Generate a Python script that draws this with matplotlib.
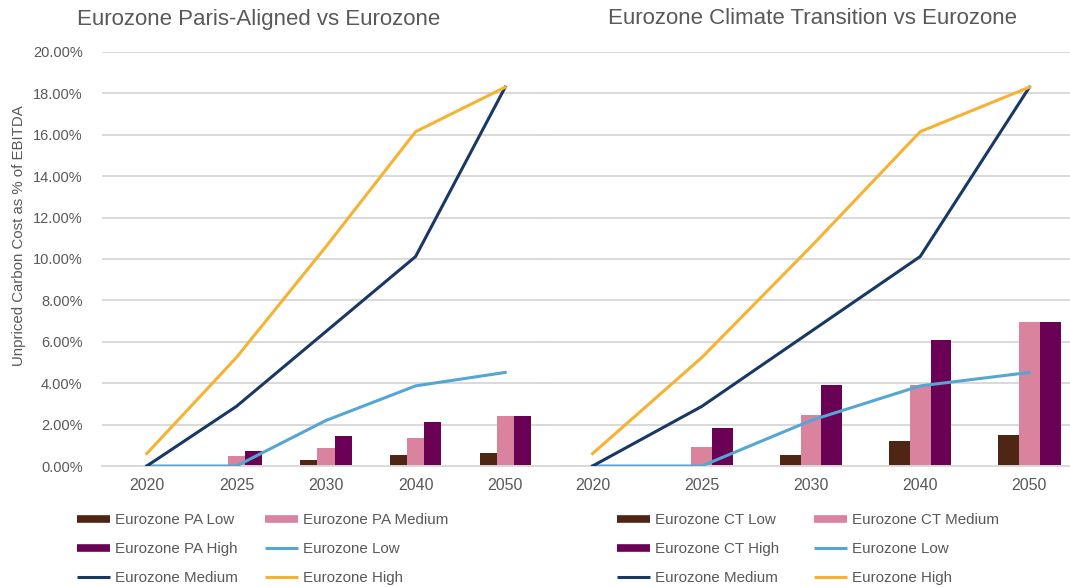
import matplotlib
matplotlib.use("Agg")
import matplotlib.pyplot as plt
from matplotlib.lines import Line2D
from matplotlib.ticker import FuncFormatter, MultipleLocator

plt.rcParams['font.family'] = ['Liberation Sans', 'DejaVu Sans']

# ---- data (values in % of EBITDA) ----
years = ["2020", "2025", "2030", "2040", "2050"]

# Eurozone benchmark lines (shared by both panels)
ez_low = [0.0, 0.0, 2.2, 3.87, 4.52]
ez_medium = [0.0, 2.88, 6.5, 10.12, 18.3]
ez_high = [0.6, 5.24, 10.6, 16.15, 18.3]

# Paris-Aligned index bars
pa_low = [0.06, 0.0, 0.30, 0.51, 0.64]
pa_medium = [0.02, 0.46, 0.88, 1.36, 2.41]
pa_high = [0.0, 0.72, 1.44, 2.14, 2.41]

# Climate Transition index bars
ct_low = [0.06, 0.0, 0.55, 1.22, 1.50]
ct_medium = [0.02, 0.94, 2.47, 3.93, 6.96]
ct_high = [0.0, 1.82, 3.93, 6.10, 6.96]

titles = ["Eurozone Paris-Aligned vs Eurozone",
          "Eurozone Climate Transition vs Eurozone"]
y_label = "Unpriced Carbon Cost as % of EBITDA"

# ---- styling ----
C_BROWN = "#4e2613"
C_PINK = "#d9839f"
C_PURPLE = "#6a0155"
C_LBLUE = "#55a6d3"
C_NAVY = "#1a3864"
C_YELLOW = "#f6b233"
C_TEXT = "#595959"
C_GRID = "#d9d9d9"

W, H = 1070, 587
fig = plt.figure(figsize=(W / 100, H / 100), dpi=100)


def px_axes(x0, x1, y_top, y_bot):
    return fig.add_axes([x0 / W, 1 - y_bot / H, (x1 - x0) / W, (y_bot - y_top) / H])


ax_l = px_axes(102, 550, 52, 466)
ax_r = px_axes(538, 1084, 52, 466)

panels = [
    (ax_l, (pa_low, pa_medium, pa_high),
     ["Eurozone PA Low", "Eurozone PA Medium", "Eurozone PA High"]),
    (ax_r, (ct_low, ct_medium, ct_high),
     ["Eurozone CT Low", "Eurozone CT Medium", "Eurozone CT High"]),
]

bw = 0.19
x = list(range(len(years)))
for ax, bars, names in panels:
    ax.set_facecolor("none")
    for k, (vals, col) in enumerate(zip(bars, (C_BROWN, C_PINK, C_PURPLE))):
        ax.bar([i + (k - 1) * bw for i in x], vals, width=bw, color=col,
               zorder=2, label=names[k])
    ax.plot(x, ez_low, color=C_LBLUE, lw=2.2, zorder=3, label="Eurozone Low")
    ax.plot(x, ez_medium, color=C_NAVY, lw=2.2, zorder=3, label="Eurozone Medium")
    ax.plot(x, ez_high, color=C_YELLOW, lw=2.2, zorder=3, label="Eurozone High")

    ax.set_xlim(-0.5, len(years) - 0.5)
    ax.set_ylim(0, 20)
    ax.yaxis.set_major_locator(MultipleLocator(2))
    ax.yaxis.set_major_formatter(FuncFormatter(lambda v, p: f"{v:.2f}%"))
    ax.grid(axis="y", color=C_GRID, lw=1.4, zorder=0)
    ax.set_axisbelow(True)
    ax.set_xticks(x)
    ax.set_xticklabels(years)
    for s in ("top", "right", "left"):
        ax.spines[s].set_visible(False)
    ax.spines["bottom"].set_color(C_GRID)
    ax.spines["bottom"].set_linewidth(1.4)
    ax.tick_params(axis="both", length=0, colors=C_TEXT)
    ax.tick_params(axis="x", pad=9, labelsize=11.5)
    ax.tick_params(axis="y", pad=14, labelsize=10.5)

ax_r.tick_params(axis="y", labelleft=False)

# titles and shared y label
fig.text(259 / W, 1 - 19 / H, titles[0], ha="center", va="center",
         fontsize=16, color=C_TEXT)
fig.text(812 / W, 1 - 19 / H, titles[1], ha="center", va="center",
         fontsize=16, color=C_TEXT)
fig.text(19 / W, 1 - 236 / H, y_label, rotation=90, ha="center", va="center",
         fontsize=10.8, color=C_TEXT)


# legends: one per column, placed under each panel
def bar_handle(c):
    return Line2D([], [], color=c, lw=5.5, solid_capstyle="butt")


def line_handle(c):
    return Line2D([], [], color=c, lw=2.2, solid_capstyle="butt")


def column_legend(handles, labels, x_px, y_px):
    leg = fig.legend(handles, labels, loc="upper left",
                     bbox_to_anchor=(x_px / W, 1 - y_px / H),
                     frameon=False, fontsize=10.9, handlelength=2.2,
                     handletextpad=0.3, labelspacing=1.0, borderpad=0,
                     borderaxespad=0, labelcolor=C_TEXT)
    return leg


for names, col1_x, col2_x in (
        (panels[0][2], 77, 265),
        (panels[1][2], 617, 814)):
    column_legend([bar_handle(C_BROWN), bar_handle(C_PURPLE), line_handle(C_NAVY)],
                  [names[0], names[2], "Eurozone Medium"], col1_x, 513)
    column_legend([bar_handle(C_PINK), line_handle(C_LBLUE), line_handle(C_YELLOW)],
                  [names[1], "Eurozone Low", "Eurozone High"], col2_x, 513)

fig.savefig("out.png", dpi=100, facecolor="white")
